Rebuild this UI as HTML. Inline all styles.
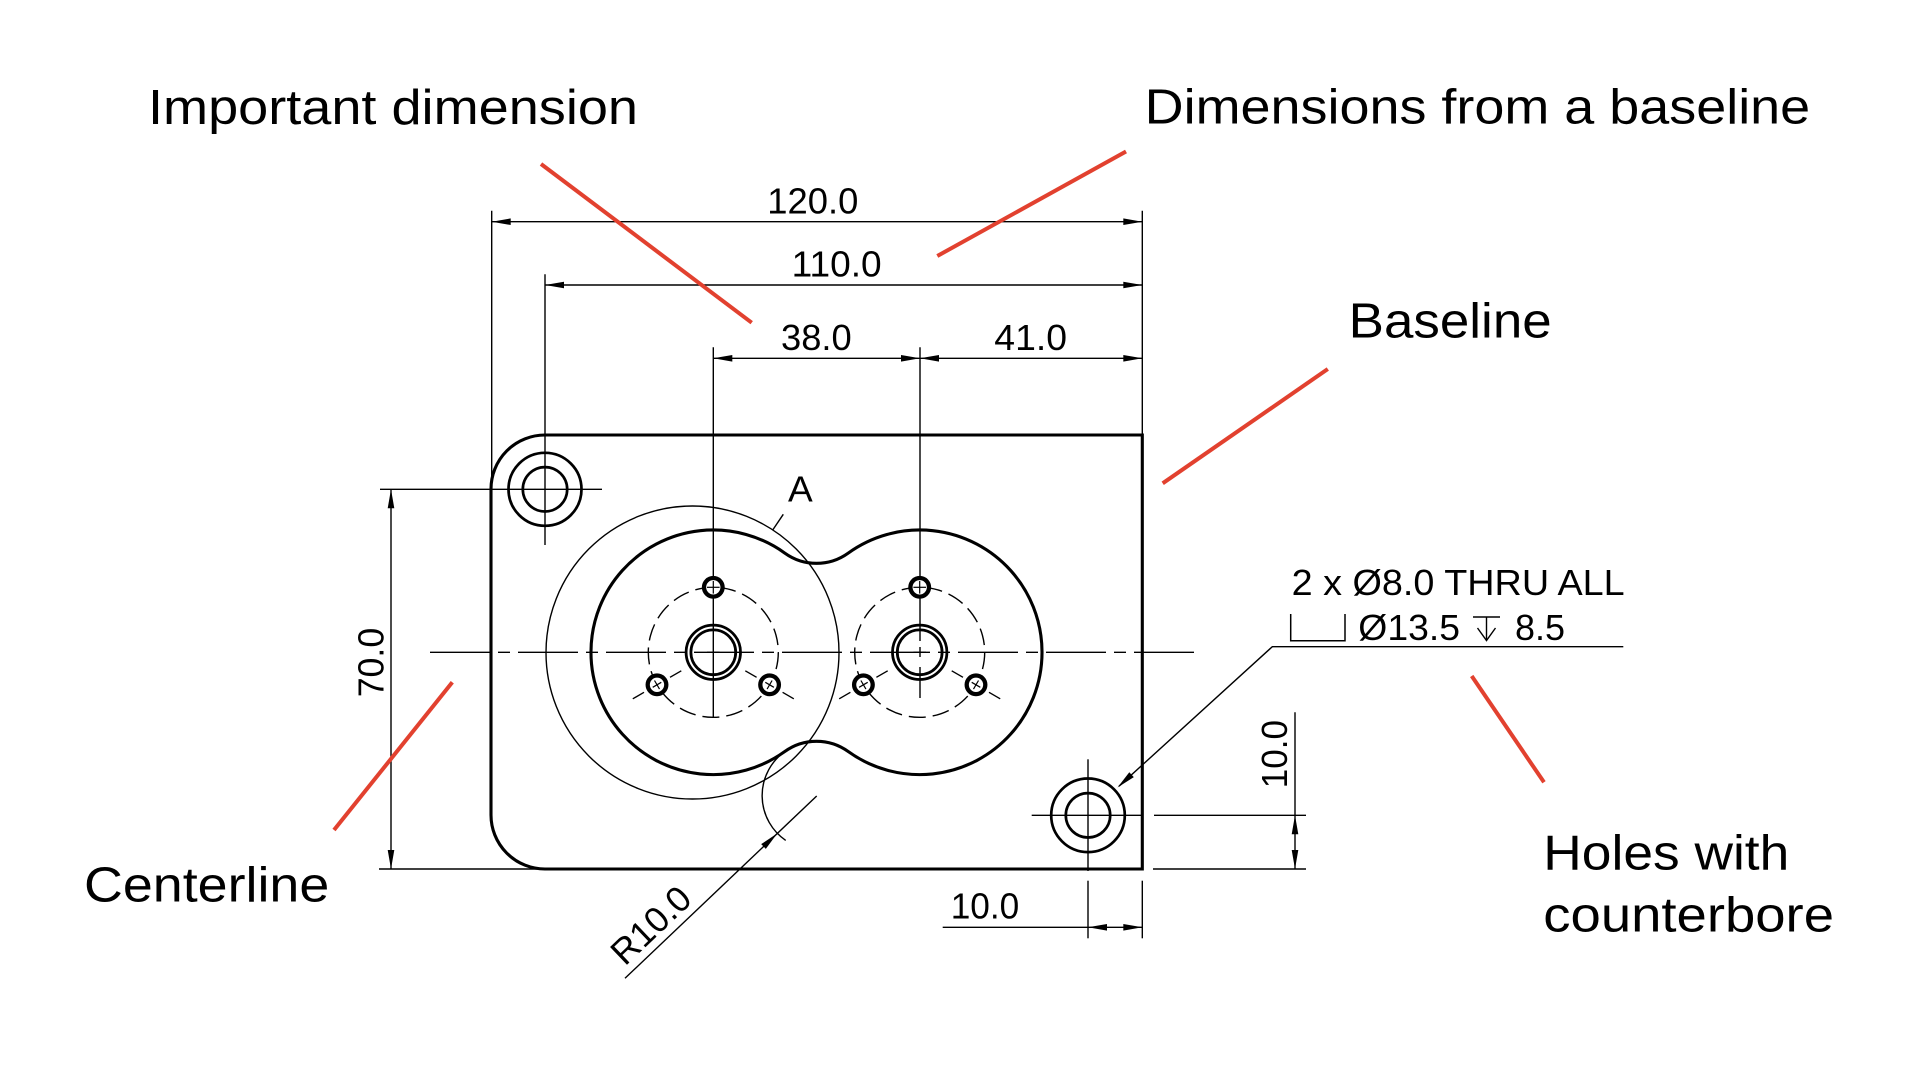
<!DOCTYPE html>
<html>
<head>
<meta charset="utf-8">
<style>
  html, body { margin: 0; padding: 0; background: #fff; }
  body { width: 1920px; height: 1080px; overflow: hidden; }
  svg { display: block; }
  text { font-family: "Liberation Sans", Arial, sans-serif; fill: #000; }
</style>
</head>
<body>
<svg width="1920" height="1080" viewBox="0 0 1920 1080" xmlns="http://www.w3.org/2000/svg">
  <rect x="0" y="0" width="1920" height="1080" fill="#fff"/>

  <!-- ============ THIN LINES ============ -->
  <g stroke="#000" stroke-width="1.4" fill="none" stroke-linecap="butt">
    <!-- extension lines (top dims) -->
    <line x1="491.7" y1="210.7" x2="491.7" y2="489"/>
    <line x1="1142.3" y1="210.7" x2="1142.3" y2="435"/>
    <line x1="545" y1="274.3" x2="545" y2="545"/>
    <line x1="713.3" y1="347.3" x2="713.3" y2="718"/>
    <line x1="920" y1="347.3" x2="920" y2="641"/>
    <line x1="920" y1="647" x2="920" y2="657"/>
    <line x1="920" y1="667" x2="920" y2="698"/>

    <!-- dimension lines -->
    <line x1="491.7" y1="221.7" x2="1142.3" y2="221.7"/>
    <line x1="545" y1="285" x2="1142.3" y2="285"/>
    <line x1="713.3" y1="358.3" x2="1142.3" y2="358.3"/>

    <!-- top-left hole crosshair / 70.0 extension -->
    <line x1="380" y1="489.3" x2="602" y2="489.3"/>
    <!-- bottom extension for 70.0 -->
    <line x1="379" y1="869" x2="545" y2="869"/>
    <!-- 70.0 dim line -->
    <line x1="391" y1="489.3" x2="391" y2="869"/>

    <!-- horizontal centerline -->
    <line x1="430" y1="652.3" x2="1197" y2="652.3" stroke-dasharray="60 8 12 8"/>

    <!-- big thin circle A -->
    <circle cx="692.5" cy="652.5" r="146.5"/>
    <!-- A leader -->
    <line x1="783.3" y1="514.3" x2="772.7" y2="530"/>

    <!-- bolt circles dashed -->
    <circle cx="713.3" cy="652.3" r="65" stroke-dasharray="17 7"/>
    <circle cx="919.7" cy="652.3" r="65" stroke-dasharray="17 7"/>

    <!-- radial center lines for bottom bolt holes -->
    <line x1="681.3" y1="670.8" x2="670" y2="677.3"/>
    <line x1="644" y1="692.3" x2="632.8" y2="698.8"/>
    <line x1="745.3" y1="670.8" x2="756.6" y2="677.3"/>
    <line x1="782.6" y1="692.3" x2="793.8" y2="698.8"/>
    <line x1="887.7" y1="670.8" x2="876.4" y2="677.3"/>
    <line x1="850.4" y1="692.3" x2="839.2" y2="698.8"/>
    <line x1="951.7" y1="670.8" x2="963" y2="677.3"/>
    <line x1="989" y1="692.3" x2="1000.2" y2="698.8"/>

    <!-- center crosses for center holes -->
    <line x1="707" y1="652.3" x2="719.6" y2="652.3"/>
    <line x1="913.4" y1="652.3" x2="926" y2="652.3"/>

    <!-- R10 thin arc -->
    <path d="M 784.8 751.5 A 54.3 54.3 0 0 0 785.7 840.4"/>
    <!-- R10 leader -->
    <line x1="816.7" y1="796" x2="625" y2="978.3"/>

    <!-- bottom-right hole lines -->
    <line x1="1088" y1="759.3" x2="1088" y2="871"/>
    <line x1="1088" y1="880.7" x2="1088" y2="938.3"/>
    <line x1="1031.7" y1="815.3" x2="1142.3" y2="815.3"/>
    <line x1="1154" y1="815.3" x2="1306" y2="815.3"/>
    <line x1="1153" y1="869" x2="1306" y2="869"/>
    <line x1="1142.3" y1="880.7" x2="1142.3" y2="938.3"/>
    <!-- right 10.0 dim line -->
    <line x1="1295" y1="712.3" x2="1295" y2="869"/>
    <!-- bottom 10.0 dim line -->
    <line x1="942.7" y1="927.3" x2="1142.3" y2="927.3"/>

    <!-- note leader -->
    <polyline points="1623.3,646.7 1272.3,646.7 1119,786.2"/>
    <!-- counterbore symbol -->
    <polyline points="1290.7,614 1290.7,640.7 1345,640.7 1345,614" stroke-width="1.5"/>
    <!-- depth symbol -->
    <line x1="1473" y1="617" x2="1500" y2="617"/>
    <line x1="1486.5" y1="617" x2="1486.5" y2="640"/>
    <polyline points="1477.5,628 1486.5,640.5 1495.5,628"/>
  </g>

  <!-- ============ THICK LINES ============ -->
  <g stroke="#000" stroke-width="3.1" fill="none">
    <!-- part outline -->
    <path d="M 545 435 L 1142.3 435 L 1142.3 869 L 545 869 A 54 54 0 0 1 491 815 L 491 489 A 54 54 0 0 1 545 435 Z"/>
    <!-- figure-8 -->
    <path d="M 784.8 553.1 A 54.3 54.3 0 0 0 848.2 553.1 A 122.3 122.3 0 1 1 848.2 751.5 A 54.3 54.3 0 0 0 784.8 751.5 A 122.3 122.3 0 1 1 784.8 553.1 Z"/>
    <!-- top-left counterbore hole -->
    <circle cx="545" cy="489.3" r="36.5" stroke-width="2.7"/>
    <circle cx="545" cy="489.3" r="22.2" stroke-width="2.7"/>
    <!-- bottom-right counterbore hole -->
    <circle cx="1088" cy="815.3" r="36.8" stroke-width="2.7"/>
    <circle cx="1088" cy="815.3" r="22.2" stroke-width="2.7"/>
    <!-- center holes -->
    <circle cx="713.3" cy="652.3" r="27.2" stroke-width="2.8"/>
    <circle cx="713.3" cy="652.3" r="22.4" stroke-width="2.8"/>
    <circle cx="919.7" cy="652.3" r="27.2" stroke-width="2.8"/>
    <circle cx="919.7" cy="652.3" r="22.4" stroke-width="2.8"/>
  </g>

  <!-- small bolt holes -->
  <g stroke="#000" stroke-width="4.3" fill="#fff">
    <circle cx="713.3" cy="587.3" r="9.3"/>
    <circle cx="657" cy="684.8" r="9.3"/>
    <circle cx="769.6" cy="684.8" r="9.3"/>
    <circle cx="919.7" cy="587.3" r="9.3"/>
    <circle cx="863.4" cy="684.8" r="9.3"/>
    <circle cx="976" cy="684.8" r="9.3"/>
  </g>
  <!-- small hole crosshairs -->
  <g stroke="#000" stroke-width="1.2" fill="none">
    <line x1="713.3" y1="581" x2="713.3" y2="593.6"/>
    <line x1="707" y1="587.3" x2="719.6" y2="587.3"/>
    <line x1="919.7" y1="581" x2="919.7" y2="593.6"/>
    <line x1="913.4" y1="587.3" x2="926" y2="587.3"/>

    <line x1="652.7" y1="687.3" x2="661.3" y2="682.3"/>
    <line x1="654.5" y1="680.5" x2="659.5" y2="689.1"/>
    <line x1="765.3" y1="682.3" x2="773.9" y2="687.3"/>
    <line x1="767.1" y1="689.1" x2="772.1" y2="680.5"/>

    <line x1="859.1" y1="687.3" x2="867.7" y2="682.3"/>
    <line x1="860.9" y1="680.5" x2="865.9" y2="689.1"/>
    <line x1="971.7" y1="682.3" x2="980.3" y2="687.3"/>
    <line x1="973.5" y1="689.1" x2="978.5" y2="680.5"/>
  </g>

  <!-- ============ ARROWHEADS ============ -->
  <g fill="#000" stroke="none">
    <polygon points="491.7,221.7 510.7,218.4 510.7,225"/>
    <polygon points="1142.3,221.7 1123.3,218.4 1123.3,225"/>
    <polygon points="545,285 564,281.7 564,288.3"/>
    <polygon points="1142.3,285 1123.3,281.7 1123.3,288.3"/>
    <polygon points="713.3,358.3 732.3,355 732.3,361.6"/>
    <polygon points="920,358.3 901,355 901,361.6"/>
    <polygon points="920,358.3 939,355 939,361.6"/>
    <polygon points="1142.3,358.3 1123.3,355 1123.3,361.6"/>
    <polygon points="391,489.3 387.7,508.3 394.3,508.3"/>
    <polygon points="391,869 387.7,850 394.3,850"/>
    <polygon points="1295,815.3 1291.7,834.3 1298.3,834.3"/>
    <polygon points="1295,869 1291.7,850 1298.3,850"/>
    <polygon points="1088,927.3 1107,924 1107,930.6"/>
    <polygon points="1142.3,927.3 1123.3,924 1123.3,930.6"/>
    <polygon points="777.3,833.4 765.8,848.9 761.2,844.1"/>
    <polygon points="1117.5,787.5 1133.8,777.1 1129.3,772.3"/>
  </g>

  <!-- ============ RED CALLOUT LINES ============ -->
  <g stroke="#e2412f" stroke-width="4" fill="none">
    <line x1="541" y1="164" x2="751.7" y2="322.7"/>
    <line x1="1126" y1="151.5" x2="937.3" y2="256"/>
    <line x1="1327.8" y1="369" x2="1162.7" y2="483.3"/>
    <line x1="452.3" y1="682.3" x2="334" y2="830"/>
    <line x1="1471.7" y1="676" x2="1544" y2="782.3"/>
  </g>

  <!-- ============ DIMENSION TEXT ============ -->
  <g font-size="35.7">
    <text x="767.3" y="213.3" textLength="91" lengthAdjust="spacingAndGlyphs">120.0</text>
    <text x="791.7" y="276.7" textLength="90" lengthAdjust="spacingAndGlyphs">110.0</text>
    <text x="781" y="350" textLength="70.7" lengthAdjust="spacingAndGlyphs">38.0</text>
    <text x="994.3" y="350" textLength="72.7" lengthAdjust="spacingAndGlyphs">41.0</text>
    <text x="950.7" y="918.3" textLength="68.6" lengthAdjust="spacingAndGlyphs">10.0</text>
    <text x="788" y="501.7" textLength="24.7" lengthAdjust="spacingAndGlyphs">A</text>
    <text transform="translate(383.3,697.3) rotate(-90)" textLength="69.5" lengthAdjust="spacingAndGlyphs">70.0</text>
    <text transform="translate(1287,788.3) rotate(-90)" textLength="68.3" lengthAdjust="spacingAndGlyphs">10.0</text>
    <text transform="translate(624.9,966.8) rotate(-43.6)" textLength="95" lengthAdjust="spacingAndGlyphs">R10.0</text>
    <text x="1291.7" y="595" textLength="333" lengthAdjust="spacingAndGlyphs">2 x Ø8.0 THRU ALL</text>
    <text x="1358.3" y="640" textLength="101.7" lengthAdjust="spacingAndGlyphs">Ø13.5</text>
    <text x="1515" y="640" textLength="50" lengthAdjust="spacingAndGlyphs">8.5</text>
  </g>

  <!-- ============ LABELS ============ -->
  <g font-size="49.5">
    <text x="148" y="124" textLength="490" lengthAdjust="spacingAndGlyphs">Important dimension</text>
    <text x="1144.7" y="123.3" textLength="665.5" lengthAdjust="spacingAndGlyphs">Dimensions from a baseline</text>
    <text x="1348.7" y="337.3" textLength="203" lengthAdjust="spacingAndGlyphs">Baseline</text>
    <text x="84" y="901.7" textLength="245.3" lengthAdjust="spacingAndGlyphs">Centerline</text>
    <text x="1543.3" y="869.3" textLength="246" lengthAdjust="spacingAndGlyphs">Holes with</text>
    <text x="1543.3" y="931.7" textLength="290.7" lengthAdjust="spacingAndGlyphs">counterbore</text>
  </g>
</svg>
</body>
</html>
